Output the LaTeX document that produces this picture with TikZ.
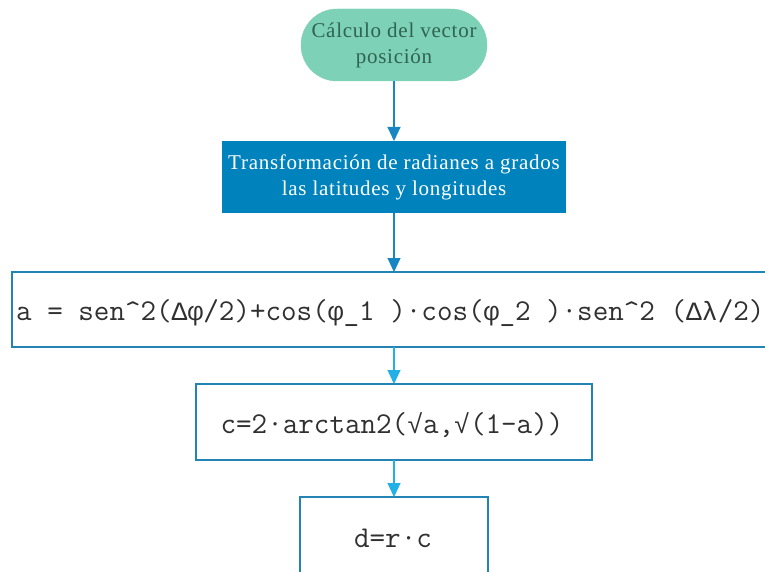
\documentclass[tikz,border=0pt]{standalone}
\usepackage{fontspec}
\setmainfont{Liberation Serif}[LetterSpace=3.5]
\setmonofont{Latin Modern Mono}
\newfontfamily\grk{Liberation Mono}
\usetikzlibrary{arrows.meta}
\definecolor{mint}{HTML}{7DD1B6}
\definecolor{minttext}{HTML}{2F6352}
\definecolor{darkblue}{HTML}{0083BD}
\definecolor{boxline}{HTML}{2383B3}
\definecolor{arrdark}{HTML}{1886C2}
\definecolor{arrlight}{HTML}{22B0E6}
\definecolor{monoink}{HTML}{303030}
\newcommand{\G}[1]{{\fontsize{26.4}{30}\grk #1}}
\tikzset{
  serifbox/.style={font=\fontsize{21}{26}\selectfont, align=center, inner sep=0pt},
  monobox/.style={draw=boxline, line width=2pt, fill=white},
  monotext/.style={font=\fontsize{30.2}{32}\selectfont\ttfamily, text=monoink, inner sep=0pt},
  flow/.style={line width=1.1pt, -{Triangle[width=13pt,length=14pt]}},
}
\begin{document}
\begin{tikzpicture}[x=1pt,y=-1pt]
\useasboundingbox (0,0) rectangle (765,572);
\clip (0,0) rectangle (765,572);
% terminator
\draw[fill=mint, draw=mint, rounded corners=36pt] (301,9) rectangle (487,81);
\node[serifbox, text=minttext] (start) at (394,45) {Cálculo del vector\\posición};
\coordinate (startb) at (394,81);
% box 2
\fill[darkblue] (222,141) rectangle (566,213);
\node[serifbox, text=white] (trans) at (394,177) {Transformación de radianes a grados\\las latitudes y longitudes};
\coordinate (transt) at (394,141);
\coordinate (transb) at (394,213);
% box 3
\draw[monobox] (12,272) rectangle (790,347);
\coordinate (at) at (394,272);
\coordinate (ab) at (394,347);
\node[monotext, anchor=base west] (a) at (16,320) {a = sen\textasciicircum2(\G{Δφ}/2)+cos(\G{φ}\_1 )·cos(\G{φ}\_2 )·sen\textasciicircum2 (\G{Δλ}/2)};
% box 4
\draw[monobox] (196,384) rectangle (592,460);
\node[monotext, anchor=base] (c) at (392,433) {c=2·arctan2(\G{√}a,\G{√}(1-a))};
\coordinate (ct) at (394,384);
\coordinate (cb) at (394,460);
% box 5
\draw[monobox] (300,497) rectangle (488,590);
\node[monotext, anchor=base] (d) at (393,547) {d=r·c};
\coordinate (dt) at (394,497);
% arrows
\draw[flow, arrdark] (startb) -- (transt);
\draw[flow, arrdark] (transb) -- (at);
\draw[flow, arrlight] (ab) -- (ct);
\draw[flow, arrlight] (cb) -- (dt);
\end{tikzpicture}
\end{document}
